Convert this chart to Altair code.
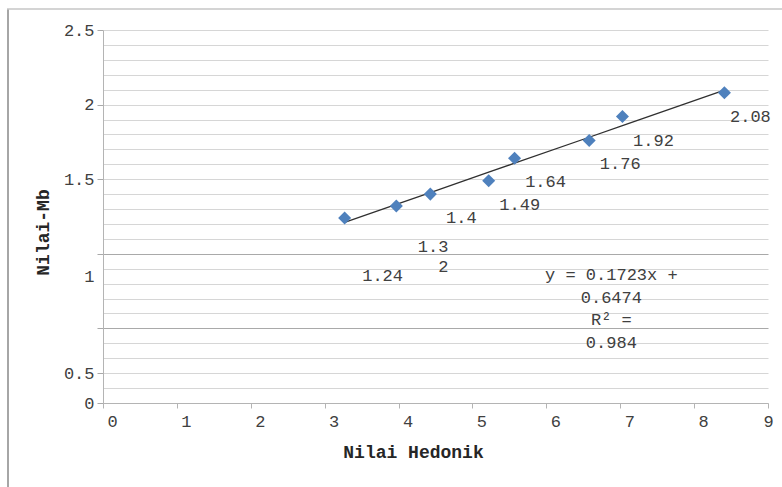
import altair as alt
import pandas as pd

# Hedonic score vs. Mb value
hedonik = [3.27, 3.97, 4.43, 5.22, 5.57, 6.58, 7.03, 8.41]
nilai_mb = [1.24, 1.32, 1.40, 1.49, 1.64, 1.76, 1.92, 2.08]
point_labels = ["1.24", "1.3\n2", "1.4", "1.49", "1.64", "1.76", "1.92", "2.08"]

# linear trendline reported on the chart
slope = 0.1723
intercept = 0.6474
r_squared = 0.984

x_ticks = list(range(10))
y_ticks = [round(i * 0.1, 1) for i in range(26)]

FONT = "Liberation Mono"
TEXT = "#404040"

df = pd.DataFrame({"x": hedonik, "y": nilai_mb, "lbl": point_labels})

x_enc = alt.X(
    "x:Q",
    scale=alt.Scale(domain=[0, 9], nice=False, zero=False),
    axis=alt.Axis(
        values=x_ticks,
        format="d",
        grid=False,
        domainColor="#b4b4b4",
        tickColor="#b4b4b4",
        tickSize=5,
        labelFont=FONT,
        labelFontSize=17,
        labelColor=TEXT,
        labelPadding=5,
        labelOffset={"condition": {"test": "datum.value == 9", "value": 0}, "value": 9},
        labelFlush=False,
        labelOverlap=False,
        labelBound=False,
        title="Nilai Hedonik",
        titleFont=FONT,
        titleFontSize=18,
        titleFontWeight="bold",
        titleColor="#262626",
        titleX=310,
        titleY=49,
        titleAlign="center",
        titleBaseline="middle",
    ),
)

major = "abs(datum.value * 2 - round(datum.value * 2)) < 0.000001"

y_enc = alt.Y(
    "y:Q",
    scale=alt.Scale(domain=[0, 2.5], nice=False, zero=False),
    axis=alt.Axis(
        values=y_ticks,
        format=".1~f",
        labelExpr=f"({major}) ? datum.label : ''",
        labelOverlap=False,
        labelBound=False,
        labelFlush=False,
        grid=True,
        gridColor={
            "condition": {"test": "datum.value == 1 || datum.value == 0.5", "value": "#a9a9a9"},
            "value": "#d6d6d6",
        },
        gridWidth=1,
        domainColor="#b4b4b4",
        tickColor="#a9a9a9",
        tickSize=6,
        tickOpacity={
            "condition": {"test": f"({major}) || datum.value == 0.2", "value": 1},
            "value": 0,
        },
        labelFont=FONT,
        labelFontSize=17,
        labelColor=TEXT,
        labelPadding=3,
        labelOffset={
            "condition": [
                {"test": "datum.value == 1", "value": 23},
                {"test": "datum.value == 0.5", "value": 45},
            ],
            "value": 0,
        },
        title="Nilai-Mb",
        titleFont=FONT,
        titleFontSize=18,
        titleFontWeight="bold",
        titleColor="#262626",
        titleAngle=270,
        titleX=-60,
        titleY=202,
        titleAlign="center",
        titleBaseline="middle",
    ),
)

base = alt.Chart(df)

# fitted line evaluated at each observed x
trend = base.transform_calculate(
    y=f"{slope} * datum.x + {intercept}"
).mark_line(color="#303030", strokeWidth=1.3).encode(order="x:Q")

points = base.mark_point(
    shape="diamond", filled=True, size=170, color="#4F81BD", opacity=1
)

# data labels: (dx, dy, align); most share the default nudge
label_nudge = {1.24: (38, 58, "center"), 1.32: (52, 41, "right"), 2.08: (26, 24, "center")}
default_nudge = (31, 24, "center")

label_layers = []
cond_default = " && ".join(f"datum.y != {v}" for v in label_nudge)
dx, dy, al = default_nudge
label_layers.append(
    base.transform_filter(cond_default)
    .mark_text(font=FONT, fontSize=17, color=TEXT, dx=dx, dy=dy, align=al, baseline="middle")
    .encode(text="lbl:N")
)
for v, (dx, dy, al) in label_nudge.items():
    label_layers.append(
        base.transform_filter(f"datum.y == {v}")
        .mark_text(
            font=FONT, fontSize=17, color=TEXT, dx=dx, dy=dy, align=al,
            baseline="middle", lineBreak="\n", lineHeight=19.5,
        )
        .encode(text="lbl:N")
    )

# trendline equation box
eq_df = pd.DataFrame({
    "x": [6.88],
    "y": [0.855],
    "txt": [f"y = {slope}x +\n{intercept}\nR² =\n{r_squared}"],
})
equation = alt.Chart(eq_df).mark_text(
    font=FONT, fontSize=17, color=TEXT, align="center", baseline="middle",
    lineBreak="\n", lineHeight=22.5,
).encode(text="txt:N")

# outer frame (left and top edges)
frame_data = alt.Data(values=[{"x": 0, "y": 0}])
frame_left = alt.Chart(frame_data).mark_rule(color="#a6a6a6", strokeWidth=2).encode(
    x=alt.value(-95), y=alt.value(-21), y2=alt.value(460)
)
frame_top = alt.Chart(frame_data).mark_rule(color="#c6c6c6", strokeWidth=1.5).encode(
    x=alt.value(-96), x2=alt.value(680), y=alt.value(-21)
)

chart = alt.layer(
    trend, points, *label_layers, equation, frame_left, frame_top
).encode(
    x=x_enc, y=y_enc
).properties(
    width=665,
    height=373,
    autosize=alt.AutoSizeParams(type="none"),
    padding={"left": 103, "top": 30, "right": 14, "bottom": 84},
    background="white",
).configure_view(stroke=None)

chart.save("out.html", embed_options={"renderer": "svg", "actions": False})
